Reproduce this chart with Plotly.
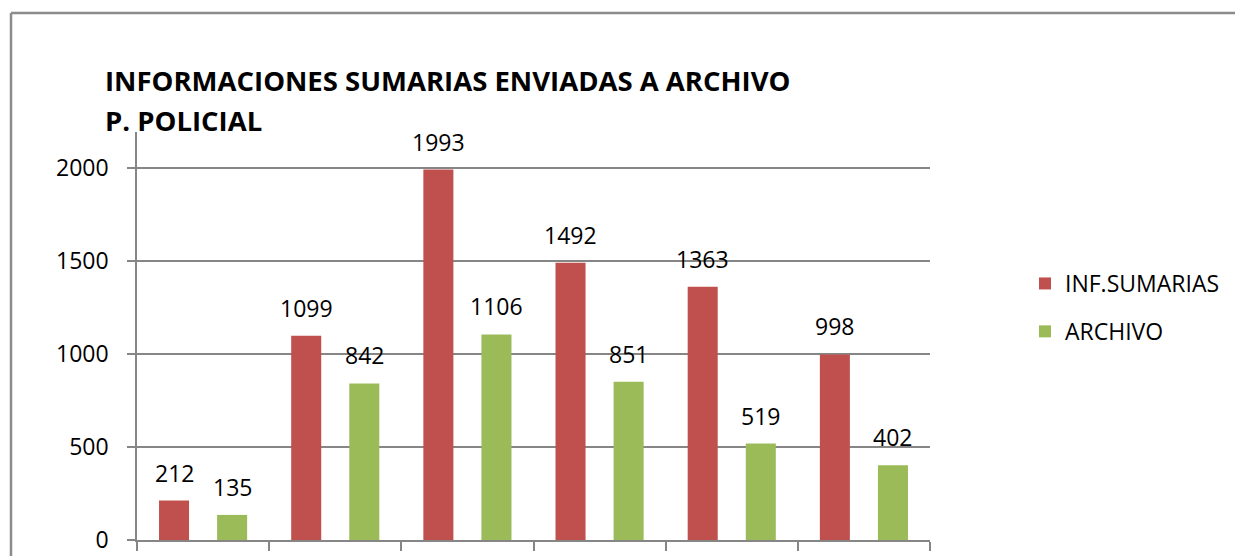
import plotly.graph_objects as go

categories = ["G1", "G2", "G3", "G4", "G5", "G6"]
inf_sumarias = [212, 1099, 1993, 1492, 1363, 998]
archivo = [135, 842, 1106, 851, 519, 402]
series_names = ["INF.SUMARIAS", "ARCHIVO"]
series_colors = ["#C0504D", "#9BBB59"]
y_ticks = [0, 500, 1000, 1500, 2000]
title_lines = ["INFORMACIONES SUMARIAS ENVIADAS A ARCHIVO", "P. POLICIAL"]

OFF = 8  # page body margin
W, H = 1243 - OFF, 556 - OFF
# plot area in window pixels: x 137..930, y 132..540
L = 137 - OFF
T = 132 - OFF
R = W - (930 - OFF)
B = H - (540 - OFF)
FONT = "Open Sans"
pw = W - L - R
ph = H - T - B


def px_x(px):
    return (px - OFF - L) / pw


def px_y(py):
    return (H - B - (py - OFF)) / ph


fig = go.Figure()
for name, vals, col, grp in zip(series_names, [inf_sumarias, archivo], series_colors, ["a", "b"]):
    fig.add_trace(go.Bar(x=categories, y=vals, name=name, marker_color=col,
                         marker_line_width=0, legendgroup=grp))

anns = []
for vals, xs in [(inf_sumarias, -29), (archivo, 29)]:
    for c, v in zip(categories, vals):
        anns.append(dict(x=c, y=v, xref="x", yref="y", text=str(v), showarrow=False,
                         xshift=xs, yshift=10, yanchor="bottom",
                         font=dict(family=FONT, size=23, color="#000")))
for line, py in zip(title_lines, [80, 120]):
    anns.append(dict(x=px_x(103), y=px_y(py), xref="paper", yref="paper", text="<b>%s</b>" % line,
                     showarrow=False, xanchor="left", yanchor="middle",
                     font=dict(family=FONT, size=27.5, color="#000")))

shapes = [
    dict(type="line", xref="paper", yref="paper", x0=px_x(11), x1=px_x(1260), y0=px_y(13), y1=px_y(13),
         line=dict(color="#8C8C8C", width=2.5)),
    dict(type="line", xref="paper", yref="paper", x0=px_x(11), x1=px_x(11), y0=px_y(13), y1=px_y(600),
         line=dict(color="#8C8C8C", width=2.5)),
]

fig.update_layout(
    width=W, height=H,
    margin=dict(l=L, r=R, t=T, b=B, pad=0, autoexpand=False),
    paper_bgcolor="white", plot_bgcolor="white",
    barmode="group", bargap=0.121, bargroupgap=0.483,
    showlegend=True,
    legend=dict(x=px_x(1025), y=px_y(262), xanchor="left", yanchor="top",
                font=dict(family=FONT, size=23, color="#000"), tracegroupgap=15,
                bgcolor="rgba(0,0,0,0)"),
    annotations=anns,
    shapes=shapes,
    xaxis=dict(showticklabels=False, ticks="outside", tickson="boundaries", ticklen=9,
               tickcolor="#868686", tickwidth=1.5, showline=True, linecolor="#868686", linewidth=1.5,
               showgrid=False, zeroline=False, automargin=False),
    yaxis=dict(range=[0, 2195], tickvals=y_ticks, ticks="outside", ticklen=8, tickcolor="#868686",
               tickwidth=1.5, showline=True, linecolor="#868686", linewidth=1.5,
               showgrid=True, gridcolor="#868686", gridwidth=1.5, zeroline=False,
               ticklabelstandoff=14, automargin=False,
               tickfont=dict(family=FONT, size=23, color="#000")),
)
fig.write_html("out.html")
